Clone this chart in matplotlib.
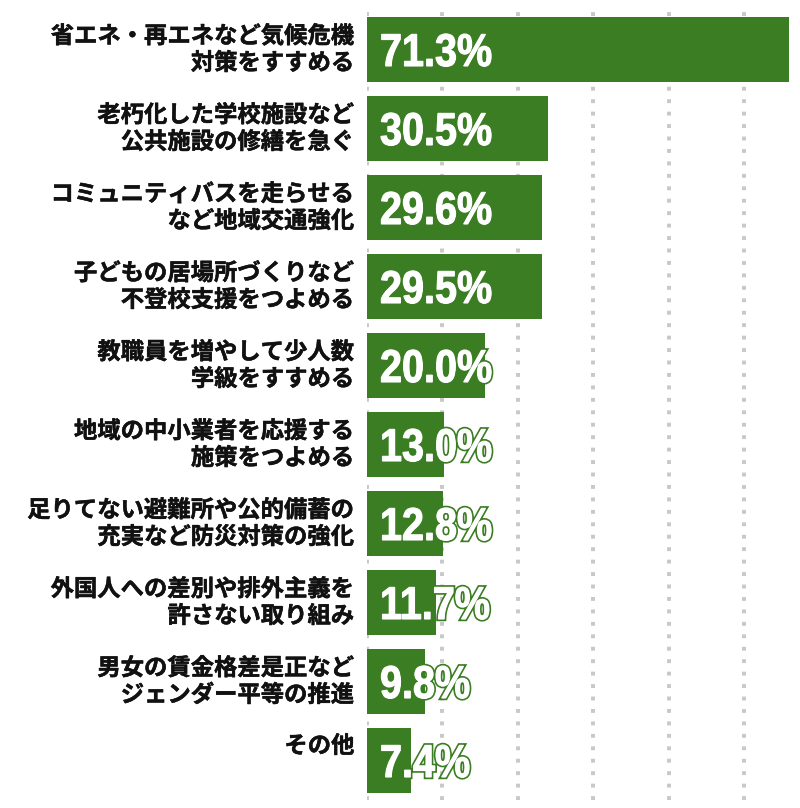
import matplotlib.pyplot as plt
import matplotlib.patheffects as pe
from matplotlib.textpath import TextPath
from matplotlib.patches import PathPatch
from matplotlib.font_manager import FontProperties
from matplotlib.transforms import Affine2D

items = [
    "省エネ・再エネなど気候危機\n対策をすすめる",
    "老朽化した学校施設など\n公共施設の修繕を急ぐ",
    "コミュニティバスを走らせる\nなど地域交通強化",
    "子どもの居場所づくりなど\n不登校支援をつよめる",
    "教職員を増やして少人数\n学級をすすめる",
    "地域の中小業者を応援する\n施策をつよめる",
    "足りてない避難所や公的備蓄の\n充実など防災対策の強化",
    "外国人への差別や排外主義を\n許さない取り組み",
    "男女の賃金格差是正など\nジェンダー平等の推進",
    "その他",
]
shares = [71.3, 30.5, 29.6, 29.5, 20.0, 13.0, 12.8, 11.7, 9.8, 7.4]
grid_at = [0, 12.75, 25.5, 38.25, 51.0, 63.75]

green = "#3b7d23"
ink = "#111111"
num_prop = FontProperties(family="Liberation Sans", weight="bold")

fig = plt.figure(figsize=(8, 8.08), dpi=100)
ax = fig.add_axes([367 / 800, 8 / 808, 433 / 800, 790 / 808])

ypos = list(range(len(shares)))
ax.barh(ypos, shares, height=0.82, color=green, zorder=2)

for g in grid_at:
    ax.axvline(g, color="#c8c8c8", lw=2.8, ls=(0, (1, 2.2)), zorder=1)

ax.set_xlim(0, 433 / 5.92)
ax.set_ylim(9.5, -0.5)
ax.axis("off")

for y, name, v in zip(ypos, items, shares):
    dy = 0 if "\n" in name else 10.5
    lab = ax.annotate(name, (0, y), xytext=(-9, dy), textcoords="offset points",
                      ha="right", va="center", fontsize=16.8, fontweight="bold",
                      family=["Noto Sans CJK JP", "DejaVu Sans"], linespacing=1.15,
                      color=ink, annotation_clip=False)
    lab.set_path_effects([pe.Stroke(linewidth=0.35, foreground=ink), pe.Normal()])

    # condensed heavy number: scaled text path, slightly thickened with a white stroke
    x0, yc = ax.transData.transform((0, y))
    tp = TextPath((0, 0), f"{v:.1f}%", size=46, prop=num_prop)
    tr = Affine2D().scale(0.86, 1.0).translate(x0 + 13, yc - 16.5)
    patch = PathPatch(tp, transform=tr, facecolor="white", edgecolor="none", zorder=3)
    patch.set_path_effects([pe.Stroke(linewidth=3.2, foreground=green),
                            pe.Stroke(linewidth=0.8, foreground="white"),
                            pe.Normal()])
    fig.add_artist(patch)

fig.savefig("out.png", dpi=100, facecolor="white")
